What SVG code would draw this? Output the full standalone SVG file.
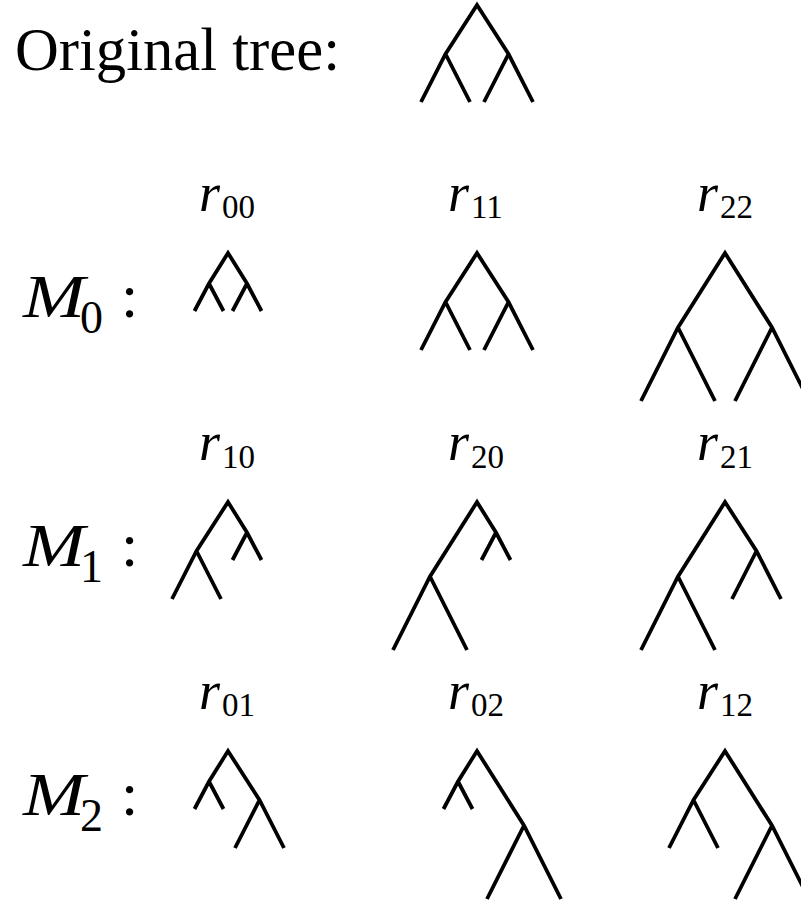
<svg xmlns="http://www.w3.org/2000/svg" width="801" height="900" viewBox="0 0 801 900">
<style>
.t{fill:none;stroke:#000;stroke-width:3.8;stroke-linejoin:miter;stroke-linecap:butt}
.big{font-family:"Liberation Serif",serif;font-size:62px;fill:#000}
.M{font-family:"Liberation Serif",serif;font-style:italic;font-size:62px;fill:#000}
.Ms{font-family:"Liberation Serif",serif;font-size:46px;fill:#000}
.r{font-family:"Liberation Serif",serif;font-style:italic;font-size:54px;fill:#000}
.rs{font-family:"Liberation Serif",serif;font-size:33px;fill:#000}
</style>
<rect width="801" height="900" fill="#fff"/>
<g id="title">
<text class="big" x="15" y="70" textLength="325" lengthAdjust="spacingAndGlyphs">Original tree:</text>
<path class="t" d="M421,102 L445.5,54 L477,5 L508.5,54 L533,102 M445.5,54 L470,102 M508.5,54 L484,102"/>
</g>
<g id="M0">
<text class="M" x="23" y="317" textLength="62" lengthAdjust="spacingAndGlyphs">M</text>
<text class="Ms" x="80" y="333">0</text>
<text class="big" x="121" y="317">:</text>
</g>
<g id="M1">
<text class="M" x="23" y="566" textLength="62" lengthAdjust="spacingAndGlyphs">M</text>
<text class="Ms" x="80" y="582">1</text>
<text class="big" x="121" y="566">:</text>
</g>
<g id="M2">
<text class="M" x="23" y="815" textLength="62" lengthAdjust="spacingAndGlyphs">M</text>
<text class="Ms" x="80" y="831">2</text>
<text class="big" x="121" y="815">:</text>
</g>
<g id="r00">
<text class="r" x="199" y="210.7">r</text><text class="rs" x="222" y="218.3">00</text>
<path class="t" d="M194.5,311 L209,283.5 L228,253 L247,283.5 L261.5,311 M209,283.5 L223.5,311 M247,283.5 L232.5,311"/>
</g>
<g id="r11">
<text class="r" x="448" y="210.7">r</text><text class="rs" x="471" y="218.3">11</text>
<path class="t" d="M421,350 L445.5,302 L477,253 L508.5,302 L533,350 M445.5,302 L470,350 M508.5,302 L484,350"/>
</g>
<g id="r22">
<text class="r" x="697" y="210.7">r</text><text class="rs" x="720" y="218.3">22</text>
<path class="t" d="M641,401 L678,327.5 L725,253 L772,327.5 L809,401 M678,327.5 L715,401 M772,327.5 L735,401"/>
</g>
<g id="r10">
<text class="r" x="199" y="460">r</text><text class="rs" x="222" y="467.5">10</text>
<path class="t" d="M172,599 L196.5,551 L228,502 L247,532.5 L261.5,560 M196.5,551 L221,599 M247,532.5 L232.5,560"/>
</g>
<g id="r20">
<text class="r" x="448" y="460">r</text><text class="rs" x="471" y="467.5">20</text>
<path class="t" d="M393,650 L430,576.5 L477,502 L496,532.5 L510.5,560 M430,576.5 L467,650 M496,532.5 L481.5,560"/>
</g>
<g id="r21">
<text class="r" x="697" y="460">r</text><text class="rs" x="720" y="467.5">21</text>
<path class="t" d="M641,650 L678,576.5 L725,502 L756.5,551 L781,599 M678,576.5 L715,650 M756.5,551 L732,599"/>
</g>
<g id="r01">
<text class="r" x="199" y="708.5">r</text><text class="rs" x="222" y="716">01</text>
<path class="t" d="M194.5,809 L209,781.5 L228,751 L259.5,800 L284,848 M209,781.5 L223.5,809 M259.5,800 L235,848"/>
</g>
<g id="r02">
<text class="r" x="448" y="708.5">r</text><text class="rs" x="471" y="716">02</text>
<path class="t" d="M443.5,809 L458,781.5 L477,751 L524,825.5 L561,899 M458,781.5 L472.5,809 M524,825.5 L487,899"/>
</g>
<g id="r12">
<text class="r" x="697" y="708.5">r</text><text class="rs" x="720" y="716">12</text>
<path class="t" d="M669,848 L693.5,800 L725,751 L772,825.5 L809,899 M693.5,800 L718,848 M772,825.5 L735,899"/>
</g>
<g id="connectors"/>
</svg>
